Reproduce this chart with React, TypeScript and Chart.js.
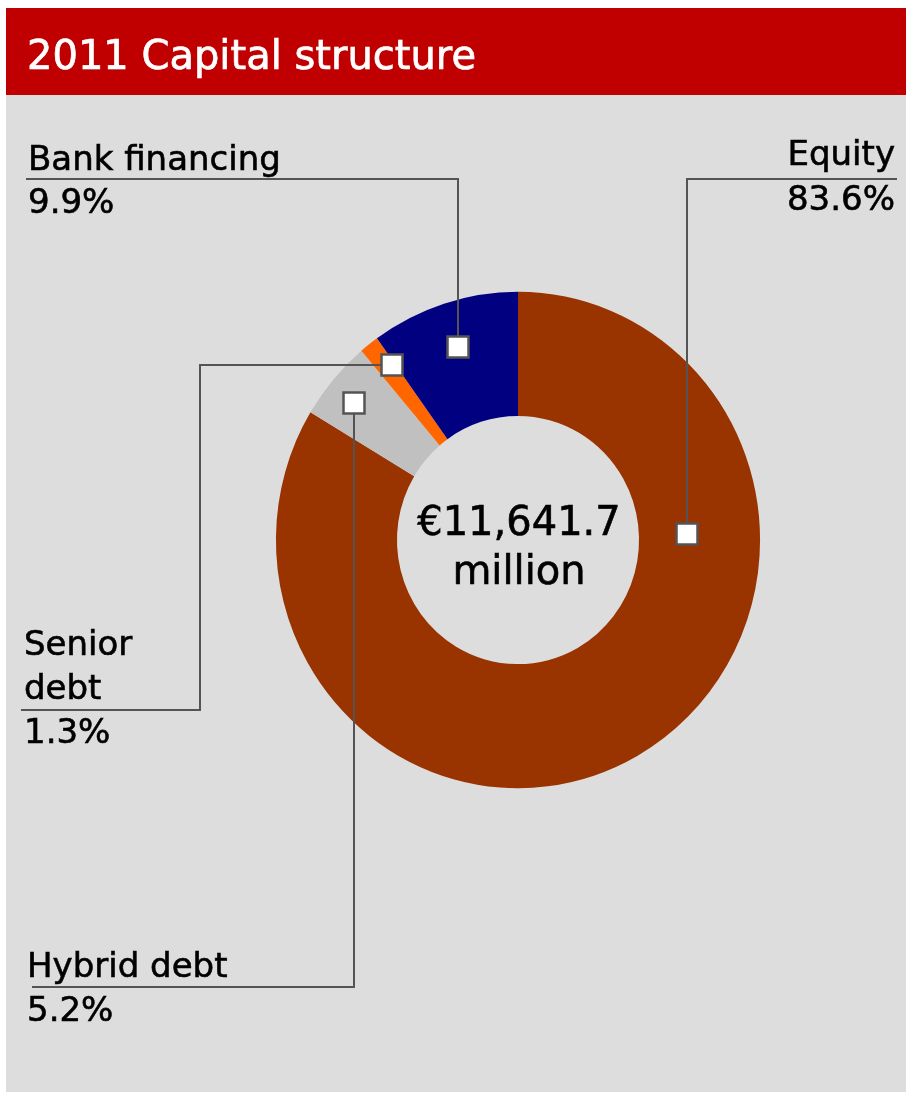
import React, { useEffect, useRef } from "react";
import { Chart, registerables } from "chart.js";

Chart.register(...registerables);

const TITLE = "2011 Capital structure";
const CATEGORIES = ["Equity", "Hybrid debt", "Senior debt", "Bank financing"];
const VALUES = [83.6, 5.2, 1.3, 9.9];
const COLORS = ["#993300", "#c0c0c0", "#ff6600", "#000080"];
const LABEL_LINES = [["Equity"], ["Hybrid debt"], ["Senior", "debt"], ["Bank financing"]];
const CENTER_TEXT = ["€11,641.7", "million"];

const W = 910;
const H = 1094;
const FONT = "'DejaVu Sans', sans-serif";
const CX = 518;
const CY = 540;
const R = 245;
const SX = 0.988;
const SY = 1.013;

// marker placement within each arc: fraction of arc angle, fraction of outer radius
const MARKER_SPEC = [
  { a: 0.292, r: 0.70 },
  { a: 0.44, r: 0.873 },
  { a: 0.83, r: 0.874 },
  { a: 0.5, r: 0.816 },
];

const overlay = {
  id: "overlay",
  beforeDraw(chart: any) {
    const ctx = chart.ctx;
    ctx.save();
    ctx.fillStyle = "#ffffff";
    ctx.fillRect(0, 0, W, H);
    ctx.fillStyle = "#dddddd";
    ctx.fillRect(6, 95, 900, 997);
    ctx.fillStyle = "#c00000";
    ctx.fillRect(6, 8, 900, 87);
    ctx.fillStyle = "#ffffff";
    ctx.strokeStyle = "#ffffff";
    ctx.lineWidth = 0.7;
    ctx.font = `40px ${FONT}`;
    ctx.textBaseline = "alphabetic";
    ctx.textAlign = "left";
    ctx.fillText(TITLE, 27, 69);
    ctx.strokeText(TITLE, 27, 69);
    ctx.restore();
  },
  beforeDatasetsDraw(chart: any) {
    const ctx = chart.ctx;
    ctx.save();
    ctx.translate(CX, CY);
    ctx.scale(SX, SY);
    ctx.translate(-CX, -CY);
  },
  afterDatasetsDraw(chart: any) {
    chart.ctx.restore();
  },
  afterDraw(chart: any) {
    const ctx = chart.ctx;
    const meta = chart.getDatasetMeta(0);
    const pts = meta.data.map((arc: any, i: number) => {
      const p = arc.getProps(["x", "y", "startAngle", "endAngle", "outerRadius"], true);
      const spec = MARKER_SPEC[i];
      const ang = p.startAngle + (p.endAngle - p.startAngle) * spec.a;
      const rr = p.outerRadius * spec.r;
      return {
        x: Math.round(p.x + rr * Math.cos(ang) * SX),
        y: Math.round(p.y + rr * Math.sin(ang) * SY),
      };
    });
    const center = meta.data[0];
    ctx.save();
    ctx.strokeStyle = "#545454";
    ctx.lineWidth = 2;
    ctx.lineJoin = "miter";
    const path = (coords: number[][]) => {
      ctx.beginPath();
      coords.forEach((c, k) => (k === 0 ? ctx.moveTo(c[0], c[1]) : ctx.lineTo(c[0], c[1])));
      ctx.stroke();
    };
    // Equity
    path([[897, 179], [pts[0].x, 179], [pts[0].x, pts[0].y]]);
    // Hybrid debt
    path([[32, 987], [pts[1].x, 987], [pts[1].x, pts[1].y]]);
    // Senior debt
    path([[21, 710], [200, 710], [200, pts[2].y], [pts[2].x, pts[2].y]]);
    // Bank financing
    path([[26, 179], [pts[3].x, 179], [pts[3].x, pts[3].y]]);

    // markers
    pts.forEach((p: any) => {
      ctx.fillStyle = "#ffffff";
      ctx.fillRect(p.x - 10.5, p.y - 10.5, 21, 21);
      ctx.lineWidth = 2.5;
      ctx.strokeStyle = "#545454";
      ctx.strokeRect(p.x - 10.5, p.y - 10.5, 21, 21);
    });

    // labels
    ctx.fillStyle = "#000000";
    ctx.strokeStyle = "#000000";
    ctx.lineWidth = 0.6;
    ctx.font = `34px ${FONT}`;
    ctx.textBaseline = "alphabetic";
    const txt = (s: string, x: number, y: number) => {
      ctx.fillText(s, x, y);
      ctx.strokeText(s, x, y);
    };
    const pct = (v: number) => v.toFixed(1) + "%";
    ctx.textAlign = "right";
    txt(LABEL_LINES[0][0], 895, 165);
    txt(pct(VALUES[0]), 895, 210);
    ctx.textAlign = "left";
    txt(LABEL_LINES[3][0], 28, 170);
    txt(pct(VALUES[3]), 28, 213);
    txt(LABEL_LINES[2][0], 24, 655);
    txt(LABEL_LINES[2][1], 24, 699);
    txt(pct(VALUES[2]), 24, 743);
    txt(LABEL_LINES[1][0], 27, 977);
    txt(pct(VALUES[1]), 27, 1021);

    // center text
    ctx.textAlign = "center";
    ctx.font = `40px ${FONT}`;
    txt(CENTER_TEXT[0], center.x + 1, 535);
    txt(CENTER_TEXT[1], center.x + 1, 584);
    ctx.restore();
  },
};

export default function App() {
  const ref = useRef<HTMLCanvasElement | null>(null);
  useEffect(() => {
    if (!ref.current) return;
    const chart = new Chart(ref.current, {
      type: "doughnut",
      data: {
        labels: CATEGORIES,
        datasets: [
          {
            data: VALUES,
            backgroundColor: COLORS,
            borderWidth: 0,
          },
        ],
      },
      options: {
        responsive: false,
        animation: false,
        devicePixelRatio: 1,
        cutout: "50%",
        rotation: 0,
        layout: {
          padding: { left: CX - R, right: W - (CX + R), top: CY - R, bottom: H - (CY + R) },
        },
        plugins: {
          legend: { display: false },
          tooltip: { enabled: false },
        },
        events: [],
      },
      plugins: [overlay],
    });
    return () => chart.destroy();
  }, []);
  return (
    <div style={{ position: "absolute", left: 0, top: 0, width: W, height: H }}>
      <canvas ref={ref} width={W} height={H} style={{ display: "block", width: W, height: H }} />
    </div>
  );
}
